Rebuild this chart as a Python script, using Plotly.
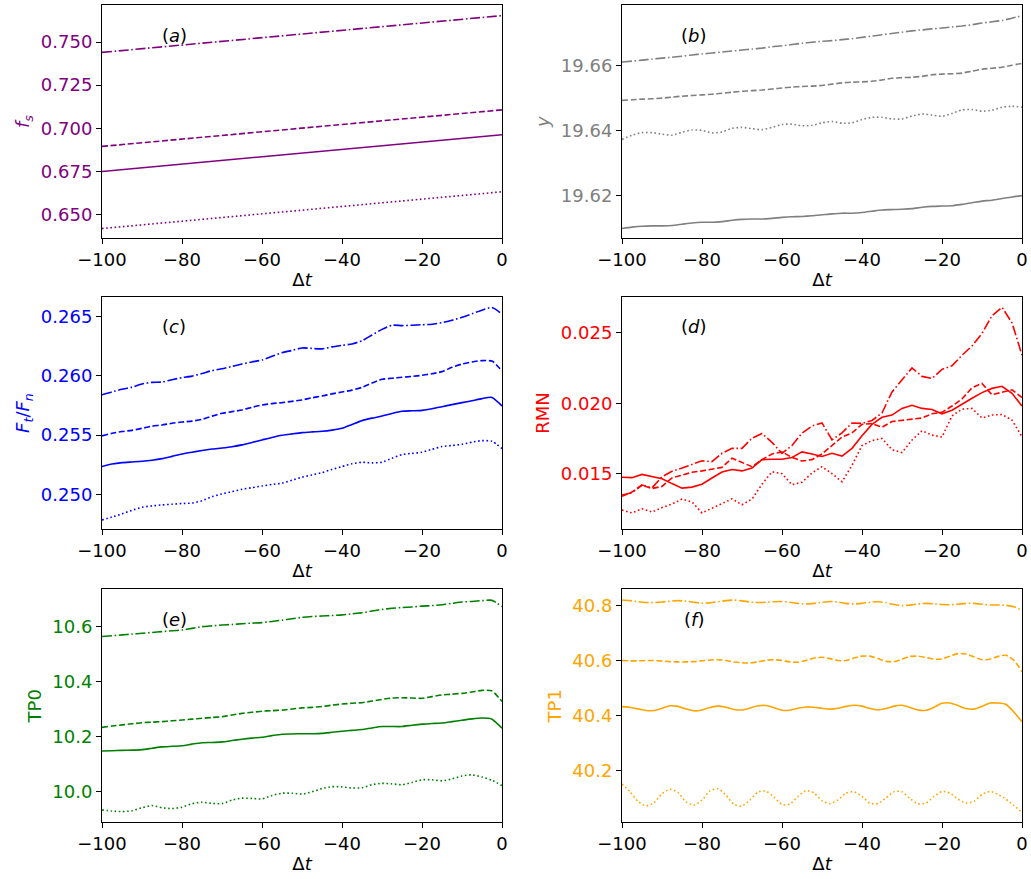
import plotly.graph_objects as go
from plotly.subplots import make_subplots

# ---------------- data ----------------
# (a) f_s : straight trends
X_A = [-100, -75, -50, -25, 0]
A_SOLID = [0.6750, 0.6803, 0.6856, 0.6910, 0.6963]
A_DASH = [0.6895, 0.6948, 0.7001, 0.7054, 0.7107]
A_DOT = [0.6419, 0.6472, 0.6525, 0.6579, 0.6632]
A_DASHDOT = [0.7440, 0.7493, 0.7546, 0.7599, 0.7653]

# common grid for panels (b)-(e)
X_G = [-100, -97.5, -95, -92.5, -90, -87.5, -85, -82.5, -80, -77.5, -75, -72.5,
       -70, -67.5, -65, -62.5, -60, -57.5, -55, -52.5, -50, -47.5, -45, -42.5,
       -40, -37.5, -35, -32.5, -30, -27.5, -25, -22.5, -20, -17.5, -15, -12.5,
       -10, -7.5, -5, -2.5, 0]

# (b) y
B_SOLID = [19.6098, 19.6102, 19.6105, 19.6106, 19.6106, 19.6107, 19.6111, 19.6115,
           19.6117, 19.6117, 19.6119, 19.6123, 19.6126, 19.6127, 19.6127, 19.6129,
           19.6132, 19.6134, 19.6135, 19.6137, 19.6140, 19.6143, 19.6145, 19.6145,
           19.6147, 19.6151, 19.6155, 19.6156, 19.6157, 19.6159, 19.6163, 19.6166,
           19.6167, 19.6168, 19.6172, 19.6177, 19.6182, 19.6185, 19.6190, 19.6195,
           19.6199]
B_DASH = [19.6492, 19.6494, 19.6496, 19.6497, 19.6499, 19.6502, 19.6505, 19.6507,
          19.6509, 19.6511, 19.6514, 19.6517, 19.6520, 19.6522, 19.6524, 19.6527,
          19.6530, 19.6533, 19.6535, 19.6536, 19.6538, 19.6542, 19.6546, 19.6548,
          19.6549, 19.6551, 19.6555, 19.6560, 19.6562, 19.6563, 19.6566, 19.6571,
          19.6573, 19.6574, 19.6576, 19.6582, 19.6588, 19.6591, 19.6594, 19.6600,
          19.6606]
B_DOT = [19.6372, 19.6385, 19.6393, 19.6393, 19.6388, 19.6385, 19.6394, 19.6401,
         19.6400, 19.6392, 19.6395, 19.6406, 19.6409, 19.6405, 19.6402, 19.6409,
         19.6418, 19.6419, 19.6414, 19.6415, 19.6423, 19.6427, 19.6422, 19.6423,
         19.6433, 19.6440, 19.6440, 19.6435, 19.6435, 19.6444, 19.6450, 19.6447,
         19.6443, 19.6452, 19.6463, 19.6464, 19.6459, 19.6462, 19.6471, 19.6474,
         19.6471]
B_DASHDOT = [19.6610, 19.6613, 19.6616, 19.6619, 19.6622, 19.6625, 19.6628, 19.6632,
             19.6635, 19.6638, 19.6641, 19.6644, 19.6647, 19.6650, 19.6653, 19.6657,
             19.6660, 19.6664, 19.6668, 19.6671, 19.6674, 19.6676, 19.6679, 19.6682,
             19.6686, 19.6690, 19.6694, 19.6698, 19.6702, 19.6706, 19.6709, 19.6712,
             19.6715, 19.6718, 19.6721, 19.6725, 19.6730, 19.6734, 19.6738, 19.6745,
             19.6753]

# (c) F_t / F_n
C_SOLID = [0.25234, 0.25255, 0.25267, 0.25273, 0.25279, 0.25288, 0.25301, 0.25320,
           0.25340, 0.25355, 0.25369, 0.25382, 0.25391, 0.25402, 0.25417, 0.25438,
           0.25459, 0.25480, 0.25498, 0.25510, 0.25521, 0.25527, 0.25532, 0.25542,
           0.25557, 0.25590, 0.25622, 0.25643, 0.25661, 0.25683, 0.25701, 0.25705,
           0.25709, 0.25722, 0.25740, 0.25757, 0.25774, 0.25790, 0.25808, 0.25818,
           0.25746]
C_DASH = [0.25493, 0.25515, 0.25530, 0.25540, 0.25557, 0.25575, 0.25585, 0.25600,
          0.25610, 0.25618, 0.25633, 0.25660, 0.25684, 0.25698, 0.25712, 0.25735,
          0.25754, 0.25766, 0.25774, 0.25785, 0.25797, 0.25815, 0.25830, 0.25848,
          0.25864, 0.25880, 0.25903, 0.25940, 0.25971, 0.25980, 0.25988, 0.25995,
          0.26005, 0.26018, 0.26036, 0.26072, 0.26100, 0.26118, 0.26129, 0.26125,
          0.26041]
C_DOT = [0.24783, 0.24808, 0.24834, 0.24865, 0.24890, 0.24902, 0.24910, 0.24916,
         0.24922, 0.24926, 0.24945, 0.24980, 0.25003, 0.25022, 0.25042, 0.25056,
         0.25070, 0.25083, 0.25093, 0.25118, 0.25144, 0.25163, 0.25183, 0.25210,
         0.25234, 0.25258, 0.25270, 0.25265, 0.25270, 0.25305, 0.25335, 0.25345,
         0.25355, 0.25380, 0.25403, 0.25412, 0.25422, 0.25440, 0.25453, 0.25448,
         0.25386]
C_DASHDOT = [0.25840, 0.25865, 0.25887, 0.25905, 0.25932, 0.25945, 0.25948, 0.25968,
             0.25985, 0.25998, 0.26020, 0.26045, 0.26060, 0.26080, 0.26100, 0.26118,
             0.26134, 0.26165, 0.26196, 0.26215, 0.26236, 0.26232, 0.26228, 0.26245,
             0.26258, 0.26270, 0.26297, 0.26345, 0.26393, 0.26428, 0.26425, 0.26428,
             0.26432, 0.26436, 0.26450, 0.26470, 0.26495, 0.26525, 0.26555, 0.26578,
             0.26522]

# (d) RMN
D_SOLID = [0.01475, 0.01472, 0.01495, 0.01478, 0.01465, 0.01430, 0.01398, 0.01405,
           0.01425, 0.01470, 0.01512, 0.01530, 0.01520, 0.01540, 0.01600, 0.01603,
           0.01603, 0.01615, 0.01655, 0.01640, 0.01622, 0.01645, 0.01625, 0.01680,
           0.01770, 0.01850, 0.01900, 0.01916, 0.01963, 0.01985, 0.01963, 0.01955,
           0.01925, 0.01950, 0.01995, 0.02035, 0.02075, 0.02105, 0.02120, 0.02070,
           0.01980]
D_DASH = [0.01340, 0.01370, 0.01420, 0.01395, 0.01410, 0.01470, 0.01490, 0.01510,
          0.01520, 0.01530, 0.01545, 0.01610, 0.01580, 0.01550, 0.01600, 0.01640,
          0.01655, 0.01615, 0.01590, 0.01600, 0.01640, 0.01700, 0.01760, 0.01790,
          0.01850, 0.01855, 0.01830, 0.01870, 0.01880, 0.01885, 0.01895, 0.01925,
          0.01935, 0.01980, 0.02030, 0.02110, 0.02140, 0.02060, 0.02080, 0.02095,
          0.02040]
D_DOT = [0.01242, 0.01222, 0.01252, 0.01228, 0.01260, 0.01285, 0.01320, 0.01300,
         0.01222, 0.01255, 0.01290, 0.01322, 0.01280, 0.01320, 0.01425, 0.01514,
         0.01500, 0.01422, 0.01440, 0.01505, 0.01550, 0.01500, 0.01443, 0.01560,
         0.01700, 0.01735, 0.01750, 0.01670, 0.01650, 0.01739, 0.01805, 0.01774,
         0.01760, 0.01910, 0.01958, 0.01963, 0.01895, 0.01916, 0.01920, 0.01880,
         0.01762]
D_DASHDOT = [0.01349, 0.01365, 0.01420, 0.01400, 0.01479, 0.01517, 0.01540, 0.01565,
             0.01592, 0.01585, 0.01645, 0.01680, 0.01680, 0.01752, 0.01785, 0.01722,
             0.01644, 0.01700, 0.01788, 0.01838, 0.01860, 0.01740, 0.01790, 0.01860,
             0.01857, 0.01878, 0.01930, 0.02080, 0.02164, 0.02250, 0.02190, 0.02175,
             0.02240, 0.02265, 0.02340, 0.02405, 0.02495, 0.02620, 0.02680, 0.02570,
             0.02340]

# (e) TP0
E_SOLID = [10.147, 10.148, 10.149, 10.150, 10.152, 10.157, 10.162, 10.164, 10.166,
           10.172, 10.177, 10.178, 10.180, 10.185, 10.190, 10.194, 10.197, 10.203,
           10.208, 10.209, 10.210, 10.210, 10.211, 10.215, 10.219, 10.222, 10.225,
           10.231, 10.236, 10.236, 10.236, 10.241, 10.245, 10.247, 10.249, 10.254,
           10.259, 10.264, 10.267, 10.263, 10.230]
E_DASH = [10.233, 10.238, 10.242, 10.246, 10.250, 10.252, 10.254, 10.257, 10.260,
          10.263, 10.266, 10.269, 10.272, 10.278, 10.284, 10.288, 10.292, 10.294,
          10.296, 10.300, 10.304, 10.306, 10.309, 10.314, 10.318, 10.321, 10.323,
          10.329, 10.335, 10.340, 10.341, 10.340, 10.339, 10.345, 10.351, 10.354,
          10.357, 10.362, 10.368, 10.366, 10.327]
E_DOT = [9.932, 9.928, 9.926, 9.929, 9.940, 9.948, 9.940, 9.937, 9.942, 9.955,
         9.960, 9.956, 9.955, 9.968, 9.975, 9.974, 9.972, 9.985, 9.993, 9.993,
         9.990, 9.998, 10.010, 10.017, 10.016, 10.012, 10.013, 10.024, 10.029,
         10.027, 10.024, 10.032, 10.042, 10.042, 10.038, 10.045, 10.056, 10.060,
         10.052, 10.040, 10.021]
E_DASHDOT = [10.564, 10.567, 10.570, 10.573, 10.576, 10.579, 10.582, 10.585, 10.588,
             10.594, 10.600, 10.603, 10.606, 10.608, 10.611, 10.613, 10.615, 10.619,
             10.624, 10.629, 10.634, 10.637, 10.639, 10.641, 10.643, 10.647, 10.651,
             10.657, 10.663, 10.667, 10.670, 10.672, 10.675, 10.677, 10.680, 10.685,
             10.690, 10.692, 10.695, 10.696, 10.673]

# (f) TP1, finer grid
X_F = list(range(-100, 1, 2))
F_SOLID = [40.433, 40.431, 40.425, 40.419, 40.419, 40.427, 40.436, 40.434, 40.425,
           40.418, 40.421, 40.430, 40.435, 40.431, 40.423, 40.421, 40.428, 40.436,
           40.437, 40.429, 40.420, 40.420, 40.427, 40.432, 40.431, 40.427, 40.424,
           40.427, 40.434, 40.438, 40.435, 40.426, 40.421, 40.426, 40.435, 40.438,
           40.430, 40.421, 40.420, 40.431, 40.445, 40.446, 40.437, 40.426, 40.424,
           40.434, 40.446, 40.446, 40.441, 40.413, 40.378]
F_DASH = [40.600, 40.599, 40.599, 40.600, 40.600, 40.598, 40.596, 40.595, 40.595,
          40.596, 40.599, 40.602, 40.603, 40.600, 40.595, 40.592, 40.591, 40.595,
          40.601, 40.603, 40.600, 40.595, 40.594, 40.600, 40.609, 40.612, 40.607,
          40.600, 40.600, 40.609, 40.616, 40.616, 40.607, 40.597, 40.596, 40.605,
          40.615, 40.616, 40.611, 40.605, 40.606, 40.616, 40.625, 40.624, 40.613,
          40.603, 40.605, 40.615, 40.619, 40.600, 40.560]
F_DOT = [40.153, 40.125, 40.090, 40.073, 40.085, 40.118, 40.134, 40.122, 40.088,
         40.076, 40.095, 40.128, 40.136, 40.112, 40.079, 40.073, 40.095, 40.124,
         40.127, 40.105, 40.079, 40.080, 40.108, 40.129, 40.120, 40.092, 40.082,
         40.095, 40.120, 40.125, 40.108, 40.083, 40.082, 40.103, 40.125, 40.125,
         40.100, 40.081, 40.084, 40.108, 40.126, 40.120, 40.098, 40.084, 40.090,
         40.115, 40.126, 40.115, 40.098, 40.075, 40.050]
F_DASHDOT = [40.819, 40.817, 40.813, 40.810, 40.810, 40.812, 40.815, 40.817, 40.815,
             40.811, 40.808, 40.809, 40.813, 40.817, 40.819, 40.816, 40.812, 40.810,
             40.811, 40.813, 40.814, 40.811, 40.807, 40.805, 40.807, 40.811, 40.814,
             40.812, 40.807, 40.805, 40.807, 40.811, 40.813, 40.809, 40.803, 40.799,
             40.801, 40.805, 40.807, 40.805, 40.803, 40.802, 40.804, 40.807, 40.807,
             40.804, 40.801, 40.801, 40.800, 40.795, 40.781]

# shared x ticks, written with a true minus sign
X_TICKS = [-100, -80, -60, -40, -20, 0]
X_TICK_TEXT = ["\u2212100", "\u221280", "\u221260", "\u221240", "\u221220", "0"]

# ---------------- styling ----------------
FONT = "DejaVu Sans"
FS = 18
DASHES = {
    "solid": "solid",
    "dash": "6px,2.6px",
    "dot": "1.6px,2.6px",
    "dashdot": "10px,2.6px,1.6px,2.6px",
}

panels = [
    # row, col, x, series, color, y title, y range, dtick, tick format, letter, shape
    (1, 1, X_A, [A_SOLID, A_DASH, A_DOT, A_DASHDOT], "#800080",
     "<i>f</i><sub><i>s</i></sub>", [0.63624, 0.77147], 0.025, ".3f", "a", "linear"),
    (1, 2, X_G, [B_SOLID, B_DASH, B_DOT, B_DASHDOT], "#808080",
     "<i>y</i>", [19.60677, 19.67856], 0.02, ".2f", "b", "spline"),
    (2, 1, X_G, [C_SOLID, C_DASH, C_DOT, C_DASHDOT], "#0000ff",
     "<i>F</i><sub><i>t</i></sub>/<i>F</i><sub><i>n</i></sub>", [0.24704, 0.26669],
     0.005, ".3f", "c", "spline"),
    (2, 2, X_G, [D_SOLID, D_DASH, D_DOT, D_DASHDOT], "#ff0000",
     "RMN", [0.01106, 0.02755], 0.005, ".3f", "d", "linear"),
    (3, 1, X_G, [E_SOLID, E_DASH, E_DOT, E_DASHDOT], "#008000",
     "TP0", [9.887, 10.7363], 0.2, ".1f", "e", "spline"),
    (3, 2, X_F, [F_SOLID, F_DASH, F_DOT, F_DASHDOT], "#ffa500",
     "TP1", [40.0142, 40.858], 0.2, ".1f", "f", "spline"),
]

W, H = 1031, 879
col_px = {1: (102, 502), 2: (622, 1022)}
row_px = {1: (5, 238.3), 2: (296.7, 529.3), 3: (589.3, 822.3)}

fig = make_subplots(rows=3, cols=2)

for row, col, xs, series, color, ytitle, yrange, dtick, fmt, letter, shape in panels:
    for ys, style in zip(series, ["solid", "dash", "dot", "dashdot"]):
        line = dict(color=color, width=1.6, dash=DASHES[style])
        if shape == "spline":
            line.update(shape="spline", smoothing=0.6)
        fig.add_trace(
            go.Scatter(x=xs, y=ys, mode="lines", line=line, showlegend=False,
                       hoverinfo="skip"),
            row=row, col=col,
        )

    x0, x1 = col_px[col]
    y0, y1 = row_px[row]
    fig.update_xaxes(
        domain=[x0 / W, x1 / W], range=[-100, 0], tickmode="array",
        tickvals=X_TICKS, ticktext=X_TICK_TEXT,
        ticks="outside", ticklen=5, tickwidth=1, tickcolor="#000",
        showline=True, linecolor="#000", linewidth=1, mirror=True,
        showgrid=False, zeroline=False,
        tickfont=dict(family=FONT, size=FS, color="#000"),
        title=dict(text="Δ<i>t</i>", font=dict(family=FONT, size=FS, color="#000"),
                   standoff=4),
        row=row, col=col,
    )
    fig.update_yaxes(
        domain=[1 - y1 / H, 1 - y0 / H], range=yrange, dtick=dtick, tick0=0,
        tickformat=fmt,
        ticks="outside", ticklen=5, tickwidth=1, tickcolor="#000",
        showline=True, linecolor="#000", linewidth=1, mirror=True,
        showgrid=False, zeroline=False,
        tickfont=dict(family=FONT, size=FS, color=color),
        title=dict(text=ytitle, font=dict(family=FONT, size=FS, color=color),
                   standoff=6),
        row=row, col=col,
    )
    idx = (row - 1) * 2 + col
    suffix = "" if idx == 1 else str(idx)
    fig.add_annotation(
        x=0.18, y=0.87, xref=f"x{suffix} domain", yref=f"y{suffix} domain",
        text=f"(<i>{letter}</i>)", showarrow=False,
        font=dict(family=FONT, size=FS, color="#000"),
        xanchor="center", yanchor="middle",
    )

fig.update_layout(
    width=W, height=H,
    margin=dict(l=0, r=0, t=0, b=0, autoexpand=False),
    plot_bgcolor="white", paper_bgcolor="white",
    font=dict(family=FONT, size=FS),
)

fig.write_html("out.html")
